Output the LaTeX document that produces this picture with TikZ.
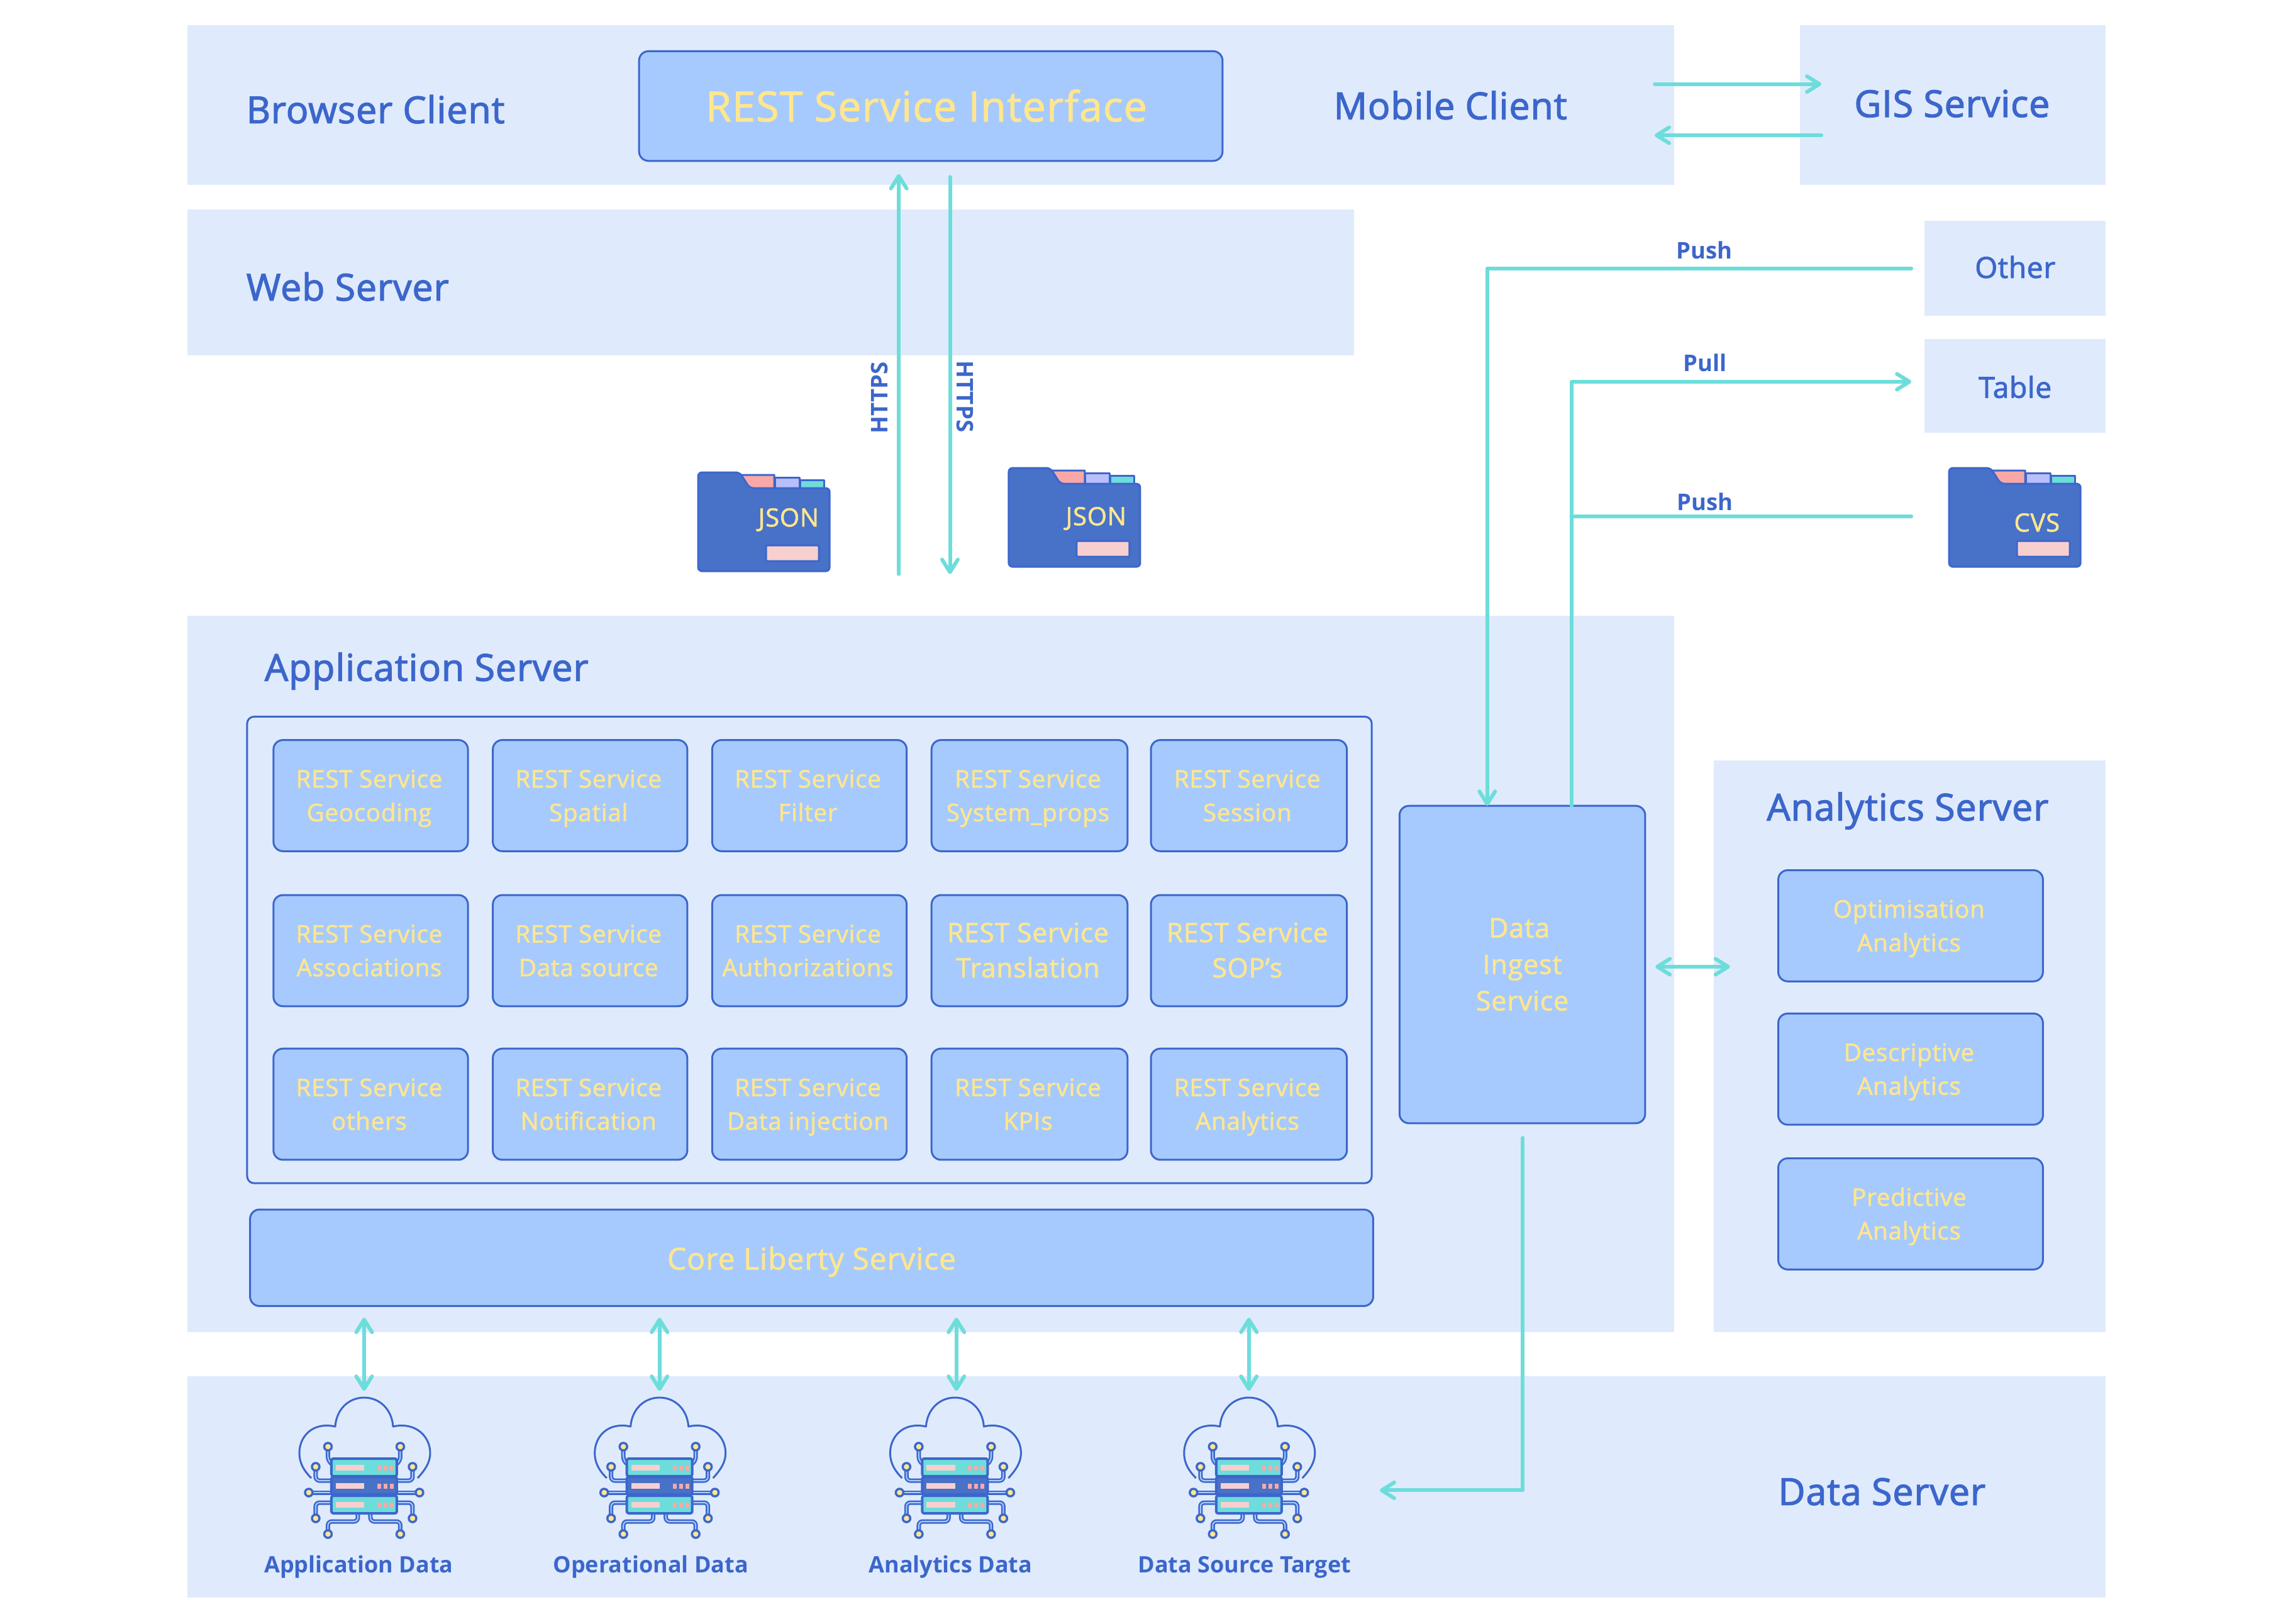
\documentclass[tikz,border=0pt]{standalone}
\usepackage{fontspec}
\setmainfont{Open Sans}
\newfontfamily\headf[FakeBold=2.2,LetterSpace=1.6]{Open Sans}
\newfontfamily\cardf[FakeBold=1.6,LetterSpace=2]{Open Sans}
\usetikzlibrary{arrows.meta}
\definecolor{band}{HTML}{DFEBFC}
\definecolor{cardfill}{HTML}{A6CAFD}
\definecolor{ink}{HTML}{3C66CC}
\definecolor{sun}{HTML}{FFE68F}
\definecolor{teal}{HTML}{6DDDDB}
\definecolor{folderfill}{HTML}{4871C8}
\definecolor{blush}{HTML}{F8CFCF}
\definecolor{salmon}{HTML}{F9A8A8}
\definecolor{lav}{HTML}{B8BFFB}
\newcommand\fs[2]{\fontsize{#1}{#2}\selectfont}
\newcommand\st{\vrule height .76\baselineskip depth .24\baselineskip width 0pt\relax}
\tikzset{
  x=2.3253pt,y=-2.3253pt,
  bandbox/.style={fill=band,draw=none,inner sep=0,outer sep=0},
  card/.style={fill=cardfill,draw=ink,line width=3pt,rounded corners=15pt,inner sep=0,outer sep=0,align=center,text=sun,font=\cardf\fs{38.5}{53.5}},
  bigcard/.style={card,font=\cardf\fs{42.5}{56}},
  frame/.style={draw=ink,line width=3pt,rounded corners=11pt,inner sep=0,outer sep=0},
  head/.style={text=ink,inner sep=0,outer sep=0,anchor=base west,font=\headf\fs{59}{59}},
  small/.style={text=ink,inner sep=0,outer sep=0,anchor=base,font=\headf\fs{46}{46}},
  tag/.style={text=ink,inner sep=0,outer sep=0,font=\bfseries\fs{36.5}{36.5}},
  dlabel/.style={text=ink,inner sep=0,outer sep=0,anchor=base,font=\bfseries\fs{36}{36}},
  link/.style={draw=teal,line width=6pt,line cap=round,line join=round},
  tip/.style={-{Straight Barb[length=20pt,width=25pt,round]}},
  tips/.style={{Straight Barb[length=20pt,width=25pt,round]}-{Straight Barb[length=20pt,width=25pt,round]}},
  foldertext/.style={text=sun,inner sep=0,outer sep=0,anchor=base east,font=\cardf\fs{40}{40}},
  trace/.style={draw=ink,line width=7pt,rounded corners=6pt},
  traceb/.style={draw=cardfill,line width=2pt,rounded corners=6pt},
}
\newcommand\bx[7]{%
  \pgfmathsetmacro\bw{(#4-#2)*2.3253}\pgfmathsetmacro\bh{(#5-#3)*2.3253}%
  \node[#6,minimum width=\bw pt,minimum height=\bh pt] (#1) at ({(#2+#4)/2},{(#3+#5)/2}) {#7};}
\newcommand\two[2]{\st #1\kern5pt\\\st #2\kern5pt}
\newcommand\folder[6]{% name, x, y, label, label x (px), label baseline (px)
  \begin{scope}[shift={(#2,#3)},x=1pt,y=1pt,yscale=-1,line join=round]
    \filldraw[fill=salmon,draw=ink,line width=3pt] (68,4) -- (121,4) -- (121,27) -- (82,27) -- cycle;
    \filldraw[fill=lav,draw=ink,line width=3pt] (122,8) -- (161,8) -- (161,27) -- (122,27) -- cycle;
    \filldraw[fill=teal,draw=ink,line width=3pt] (162,12) -- (200,12) -- (200,27) -- (162,27) -- cycle;
    \filldraw[fill=folderfill,draw=ink,line width=3pt,rounded corners=6pt] (0,0) -- (66,0) -- (82,25) -- (209,25) -- (209,157) -- (0,157) -- cycle;
    \filldraw[fill=blush,draw=ink,line width=3pt,rounded corners=2pt] (108,116) rectangle (192,141);
    \node[foldertext] (#1) at (#5,#6) {#4};
  \end{scope}}
\newcommand\circuit[1]{%
  \foreach \s in {1,-1}{
   \begin{scope}[xscale=\s]
    \foreach \st in {trace,traceb}{
      \draw[\st] (52,105) -- (57.5,100) -- (57.5,78);
      \draw[\st] (52,132) -- (77,132) -- (77,110);
      \draw[\st] (52,151) -- (88,151);
      \draw[\st] (52,167) -- (77,167) -- (77,192);
      \draw[\st] (10,184) -- (10,197) -- (57.5,197) -- (57.5,217);
    }
    \foreach \p in {(57.5,78),(77,110),(88,151),(77,192),(57.5,217)}{
      \filldraw[fill=sun,draw=ink,line width=3.5pt] \p circle (6pt);
    }
   \end{scope}}}
\newcommand\rack[2]{% top, colour
  \filldraw[fill=#2,draw=ink,line width=4pt,rounded corners=3pt] (-52,#1) rectangle (52,#1+28);
  \fill[blush] (-45,#1+10) rectangle (0.5,#1+19);
  \foreach \dx in {21,31,41}{\fill[salmon] (\dx,#1+10.5) rectangle (\dx+6,#1+18.5);}}
\newcommand\cloudicon[3]{% centre x, top y, name
  \begin{scope}[shift={(#1,#2)},x=1pt,y=1pt,yscale=-1,line join=round]
    \coordinate (#3) at (0,0);
    \draw[ink,line width=3pt] (-84,128) .. controls (-96,116) and (-103,104) .. (-103,88)
       .. controls (-103,62) and (-82,38) .. (-46,46)
       .. controls (-44,18) and (-24,0) .. (0,0)
       .. controls (24,0) and (44,18) .. (46,46)
       .. controls (82,38) and (105,62) .. (105,88)
       .. controls (105,104) and (96,116) .. (85,128);
    \circuit{#3}
    \rack{97}{teal}\rack{126}{folderfill}\rack{156}{teal}
  \end{scope}}
\begin{document}
\begin{tikzpicture}
\useasboundingbox (0,0) rectangle (1568,1110);
\fill[white] (0,0) rectangle (1568,1110);
% bands
\bx{browserband}{128}{17}{1145}{126.3}{bandbox}{}
\bx{gisband}{1231}{17}{1440}{126.3}{bandbox}{}
\bx{webband}{128}{143}{926}{243}{bandbox}{}
\bx{otherband}{1316}{151}{1440}{216}{bandbox}{}
\bx{tableband}{1316}{232}{1440}{296}{bandbox}{}
\bx{appband}{128}{421}{1145}{911}{bandbox}{}
\bx{analyticsband}{1172}{520}{1440}{911}{bandbox}{}
\bx{databand}{128}{941}{1440}{1092.3}{bandbox}{}
% headings
\node[head] (browser) at (168.5,84.2) {Browser Client};
\node[head] (mobile) at (912,81.5) {Mobile Client};
\node[head] (gis) at (1268,80) {GIS Service};
\node[head] (web) at (168.5,205.5) {Web Server};
\node[head] (app) at (181,465.5) {Application Server};
\node[head,anchor=base] (analytics) at (1304.5,561) {Analytics Server};
\node[head] (dataserver) at (1216,1029) {Data Server};
\node[small] (other) at (1378,190) {Other};
\node[small] (table) at (1378,272) {Table};
% boxes
\bx{rest}{437}{35}{836}{110}{card}{}
\node[text=sun,inner sep=0,outer sep=0,anchor=base,font=\cardf\fs{66}{66}] (restlabel) at (633.5,83) {REST Service Interface};
\bx{container}{169}{490}{938}{809}{frame}{}
\bx{c11}{187}{506}{320}{582}{card}{\two{REST Service}{Geocoding}}
\bx{c12}{337}{506}{470}{582}{card}{\two{REST Service}{Spatial}}
\bx{c13}{487}{506}{620}{582}{card}{\two{REST Service}{Filter}}
\bx{c14}{637}{506}{771}{582}{card}{\two{REST Service}{System\_props}}
\bx{c15}{787}{506}{921}{582}{card}{\two{REST Service}{Session}}
\bx{c21}{187}{612}{320}{688}{card}{\two{REST Service}{Associations}}
\bx{c22}{337}{612}{470}{688}{card}{\two{REST Service}{Data source}}
\bx{c23}{487}{612}{620}{688}{card}{\two{REST Service}{Authorizations}}
\bx{c24}{637}{612}{771}{688}{bigcard}{\two{REST Service}{Translation}}
\bx{c25}{787}{612}{921}{688}{bigcard}{\two{REST Service}{SOP’s}}
\bx{c31}{187}{717}{320}{793}{card}{\two{REST Service}{others}}
\bx{c32}{337}{717}{470}{793}{card}{\two{REST Service}{Notification}}
\bx{c33}{487}{717}{620}{793}{card}{\two{REST Service}{Data injection}}
\bx{c34}{637}{717}{771}{793}{card}{\two{REST Service}{KPIs}}
\bx{c35}{787}{717}{921}{793}{card}{\two{REST Service}{Analytics}}
\bx{core}{171}{827}{939}{893}{card,font=\cardf\fs{48}{72}}{\st Core Liberty Service}
\bx{ingest}{957}{551}{1125}{768}{card,font=\cardf\fs{43}{58}}{\st Data\kern10pt\\\st Ingest\\\st Service}
\bx{a1}{1216}{595}{1397}{671}{card}{\two{Optimisation}{Analytics}}
\bx{a2}{1216}{693}{1397}{769}{card}{\two{Descriptive}{Analytics}}
\bx{a3}{1216}{792}{1397}{868}{card}{\two{Predictive}{Analytics}}
% folders
\folder{jsonleft}{477.4}{323}{JSON}{192}{86}
\folder{jsonright}{689.8}{320}{JSON}{187}{91}
\folder{cvs}{1332.8}{320}{CVS}{176}{101}
% clouds
\cloudicon{249}{955.6}{s1}
\cloudicon{451}{955.6}{s2}
\cloudicon{653}{955.6}{s3}
\cloudicon{854}{955.6}{s4}
\node[dlabel] (l1) at (245.3,1075.5) {Application Data};
\node[dlabel] (l2) at (445,1075.5) {Operational Data};
\node[dlabel] (l3) at (650,1075.5) {Analytics Data};
\node[dlabel] (l4) at (851,1075.5) {Data Source Target};
% connector ends
\coordinate (gisA) at (1131.5,57.5); \coordinate (gisB) at (1245.5,57.5);
\coordinate (gisC) at (1245.5,92.5); \coordinate (gisD) at (1131.5,92.5);
\coordinate (upA) at (614.6,392.5); \coordinate (upB) at (614.6,119);
\coordinate (dnA) at (649.6,121); \coordinate (dnB) at (649.6,392.5);
\coordinate (pushA) at (1307,183.5); \coordinate (pushB) at (1017,551);
\coordinate (pullA) at (1074.5,551); \coordinate (pullB) at (1307,261);
\coordinate (pushC) at (1307,353); \coordinate (pushD) at (1074.5,353);
\coordinate (anA) at (1132,661); \coordinate (anB) at (1183,661);
\coordinate (inA) at (1041.3,778); \coordinate (inB) at (943.5,1019);
\foreach \n/\xx in {1/249,2/451,3/654,4/854}{
  \coordinate (dt\n) at (\xx,901); \coordinate (db\n) at (\xx,951);
  \draw[link,tips] (dt\n) -- (db\n);
}
\draw[link,tip] (gisA) -- (gisB);
\draw[link,tip] (gisC) -- (gisD);
\draw[link,tip] (upA) -- (upB);
\draw[link,tip] (dnA) -- (dnB);
\draw[link,tip] (pushA) -| (pushB);
\draw[link,tip] (pullA) |- (pullB);
\draw[link] (pushC) -- (pushD);
\draw[link,tips] (anA) -- (anB);
\draw[link,tip] (inA) |- (inB);
% tags
\node[tag,rotate=90] (h1) at (601.5,272) {HTTPS};
\node[tag,rotate=-90] (h2) at (660,271) {HTTPS};
\node[tag] (p1) at (1165.5,171) {Push};
\node[tag] (p2) at (1166,248) {Pull};
\node[tag] (p3) at (1166,343) {Push};
\end{tikzpicture}
\end{document}
